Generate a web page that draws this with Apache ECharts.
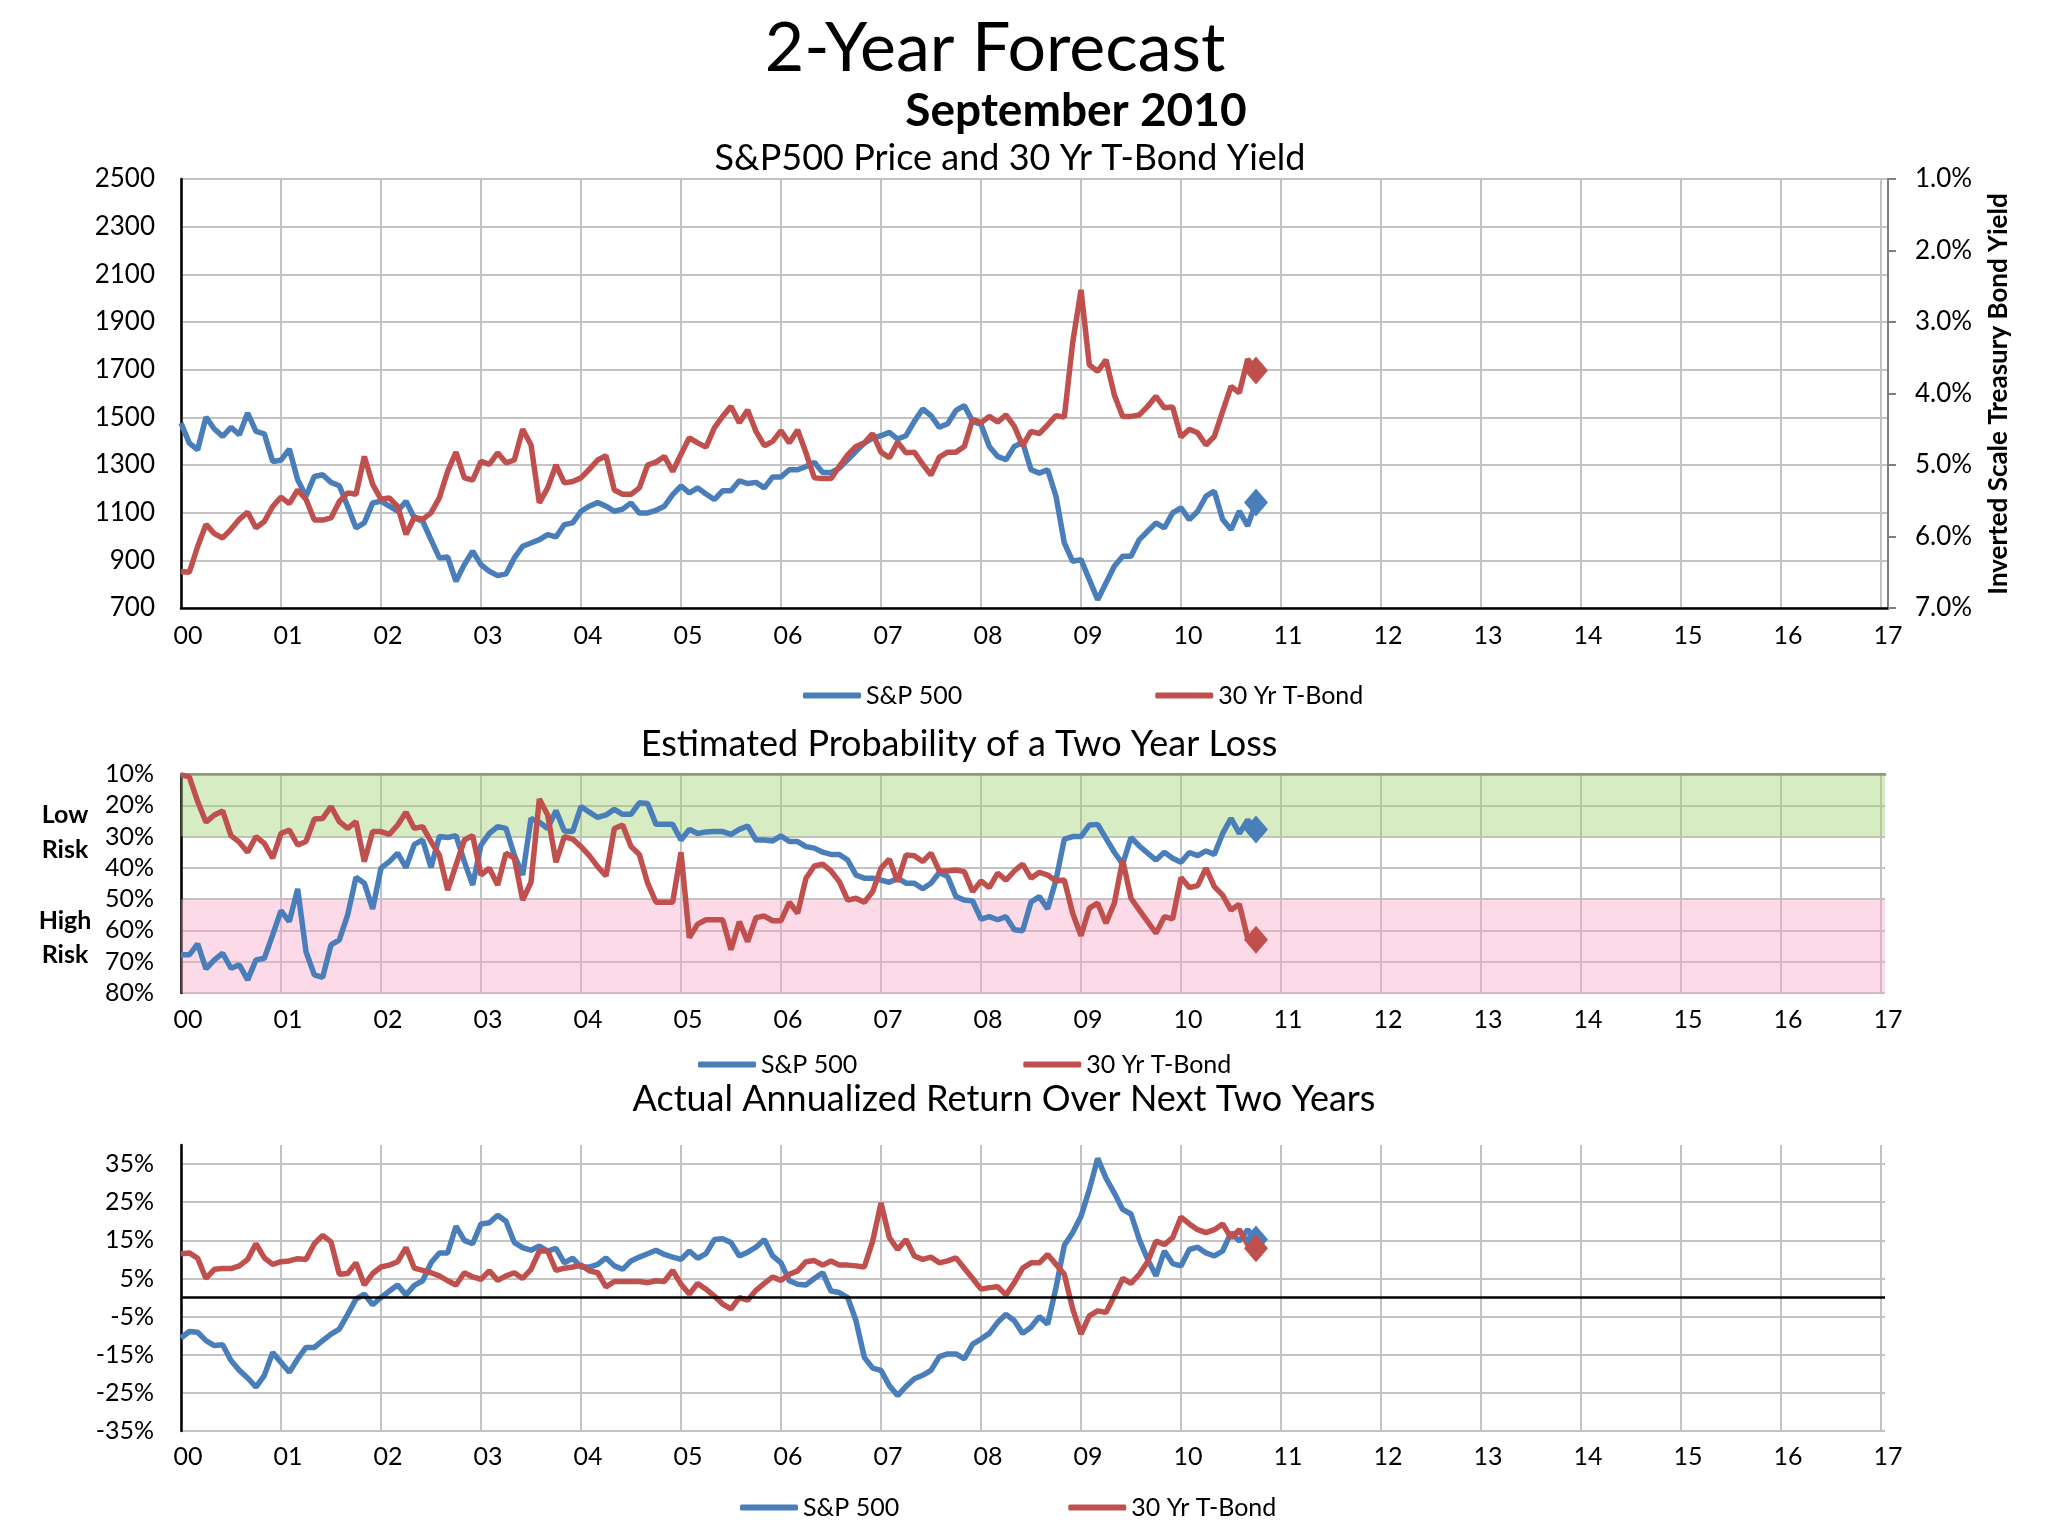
<!DOCTYPE html>
<html><head><meta charset="utf-8">
<script src="https://cdn.jsdelivr.net/npm/echarts@6/dist/echarts.min.js"></script>
<style>html,body{margin:0;padding:0;background:#fff}#c{width:2048px;height:1536px}</style>
</head><body><div id="c"></div>
<script>
// ---------- data (monthly, first point = end of Dec 1999, last = Sep 2010) ----------
const yearLabels = ['00','01','02','03','04','05','06','07','08','09','10','11','12','13','14','15','16','17'];
const seriesNames = ['S&P 500', '30 Yr T-Bond'];

const spPrice = [
 1476,1392,1364,1501,1451,1420,1458,1427,1518,1441,1431,1315,
 1320,1367,1238,1169,1252,1259,1227,1213,1127,1036,1057,1141,
 1148,1127,1106,1148,1078,1064,987,910,914,812,882,938,
 882,854,836,843,910,959,973,987,1008,998,1050,1057,
 1106,1127,1143,1127,1106,1115,1141,1099,1099,1110,1127,1176,
 1212,1183,1204,1178,1155,1192,1192,1234,1222,1227,1204,1250,
 1250,1280,1280,1294,1311,1269,1269,1287,1322,1357,1392,1413,
 1423,1437,1409,1423,1483,1535,1507,1458,1473,1529,1549,1483,
 1470,1378,1336,1322,1378,1395,1280,1266,1280,1169,973,896,
 903,819,735,805,875,917,917,987,1022,1057,1036,1099,
 1120,1071,1106,1169,1190,1071,1029,1106,1045,1143];

const bondYield = [
 6.49,6.50,6.14,5.83,5.96,6.02,5.90,5.76,5.66,5.88,5.79,5.58,
 5.45,5.54,5.35,5.48,5.77,5.77,5.74,5.51,5.39,5.41,4.88,5.27,
 5.48,5.46,5.58,5.97,5.73,5.76,5.67,5.46,5.09,4.82,5.18,5.21,
 4.95,4.99,4.83,4.97,4.93,4.50,4.72,5.53,5.32,5.00,5.25,5.23,
 5.18,5.06,4.93,4.87,5.35,5.41,5.41,5.32,5.00,4.96,4.88,5.09,
 4.85,4.62,4.69,4.75,4.48,4.32,4.18,4.41,4.23,4.53,4.73,4.67,
 4.52,4.69,4.51,4.83,5.18,5.19,5.19,5.02,4.86,4.74,4.69,4.56,
 4.82,4.90,4.68,4.83,4.82,4.99,5.14,4.89,4.82,4.82,4.74,4.36,
 4.41,4.32,4.40,4.30,4.46,4.73,4.53,4.56,4.44,4.31,4.33,3.29,
 2.55,3.60,3.69,3.53,4.02,4.32,4.32,4.30,4.18,4.04,4.20,4.19,
 4.61,4.50,4.55,4.72,4.60,4.25,3.90,3.99,3.52,3.68];

const lossProbSP = [
 67.8,67.8,64.3,72.3,69.4,67.3,72.1,71.0,75.8,69.4,68.9,61.4,
 53.7,57.2,46.7,66.8,74.2,75.0,64.6,63.0,55.0,43.0,44.9,53.1,
 40.1,38.0,35.3,39.9,32.5,31.1,39.9,30.0,30.3,29.7,38.0,45.5,
 32.7,29.0,26.8,27.4,35.9,42.3,24.2,25.4,27.4,21.7,28.2,28.4,
 20.4,22.2,23.9,23.1,21.3,22.9,22.9,19.2,19.4,26.1,26.1,26.1,
 31.1,27.7,29.0,28.5,28.4,28.4,29.3,27.7,26.6,31.1,31.1,31.4,
 29.8,31.6,31.6,33.2,33.7,35.0,35.7,35.7,37.5,42.3,43.3,43.3,
 43.9,44.6,43.3,44.9,44.9,46.7,44.9,41.5,42.8,49.2,50.3,50.6,
 56.4,55.6,56.6,55.6,59.8,60.1,50.9,49.2,53.1,43.9,30.8,30.0,
 30.0,26.3,26.1,30.6,35.0,38.8,30.3,33.0,35.3,37.5,35.0,36.9,
 38.2,35.1,36.1,34.6,35.7,29.0,24.2,29.0,24.7,27.7];

const lossProbTB = [
 10.3,10.9,18.8,25.4,23.1,21.8,29.7,31.8,35.0,30.0,32.2,36.9,
 29.0,27.9,32.7,31.6,24.4,24.2,20.4,25.2,27.4,25.2,38.0,28.4,
 28.4,29.3,26.3,22.2,27.4,26.8,31.6,35.9,47.1,39.1,31.1,29.7,
 42.3,40.1,45.5,35.3,36.9,50.3,44.6,18.0,23.1,38.2,30.0,30.8,
 33.2,36.1,39.6,42.6,27.4,26.3,33.2,35.7,44.9,51.0,51.0,51.0,
 35.0,62.3,58.0,56.6,56.6,56.6,66.2,57.2,63.6,55.9,55.4,56.9,
 56.9,51.0,54.5,43.3,39.4,38.8,41.0,44.4,50.3,49.7,51.0,47.6,
 40.1,37.2,44.4,35.9,36.1,38.0,35.3,41.0,41.0,40.7,41.2,47.6,
 44.2,46.3,41.7,43.9,41.0,38.8,43.3,41.4,42.3,44.2,43.9,54.5,
 61.7,52.9,51.3,57.7,51.3,37.5,49.7,53.5,57.2,60.9,55.6,56.3,
 43.1,46.3,45.7,40.1,46.0,48.7,53.5,51.6,62.5,63.0];

const returnSP = [
 -10.6,-8.9,-9.1,-11.3,-12.6,-12.4,-16.5,-19.1,-21.1,-23.5,-20.4,-14.4,
 -17.0,-19.6,-16.1,-13.1,-13.1,-11.3,-9.6,-8.3,-4.4,-0.4,0.9,-1.9,
 0.0,1.7,3.3,0.7,3.2,4.4,9.1,11.7,11.7,18.7,15.0,14.1,
 19.3,19.6,21.6,20.0,14.4,13.1,12.4,13.5,12.2,12.9,9.1,10.3,
 8.0,8.0,8.7,10.4,8.3,7.4,9.6,10.6,11.5,12.4,11.3,10.6,
 10.0,12.2,10.3,11.5,15.2,15.4,14.4,10.9,11.9,13.2,15.2,10.9,
 9.1,4.4,3.5,3.3,5.0,6.5,1.7,1.3,0.0,-6.1,-15.7,-18.5,
 -19.1,-23.1,-25.7,-23.3,-21.3,-20.4,-19.1,-15.5,-14.8,-14.8,-16.1,-12.2,
 -10.9,-9.4,-6.5,-4.4,-6.1,-9.4,-7.8,-5.0,-7.0,2.6,13.7,17.0,
 21.3,28.3,36.5,31.3,27.4,23.1,21.9,15.2,10.0,5.7,12.2,8.9,
 8.3,12.6,13.2,11.7,10.9,12.2,17.0,14.8,17.8,15.2];

const returnTB = [
 11.5,11.7,10.3,5.0,7.4,7.6,7.6,8.3,10.0,14.1,10.4,8.7,
 9.4,9.6,10.2,10.0,14.1,16.3,14.6,6.1,6.3,9.1,3.3,6.3,
 8.0,8.5,9.4,13.1,7.7,7.1,6.5,5.7,4.4,3.3,6.5,5.4,
 4.8,7.0,4.5,5.7,6.5,5.0,7.4,12.2,12.2,7.1,7.7,8.0,
 8.5,7.0,6.5,2.8,4.2,4.2,4.2,4.2,3.9,4.4,4.2,7.1,
 3.5,0.9,3.7,2.2,0.4,-1.7,-3.0,0.0,-0.7,1.9,3.7,5.4,
 4.5,6.1,7.0,9.4,9.7,8.5,9.6,8.5,8.5,8.3,8.0,14.8,
 24.8,15.7,12.6,15.2,10.9,10.0,10.6,9.1,9.6,10.4,7.7,5.0,
 2.2,2.6,2.8,0.7,3.9,7.7,9.1,9.1,11.3,8.7,6.1,-3.0,
 -9.6,-4.8,-3.5,-3.9,0.4,5.0,3.7,6.1,9.4,14.8,13.9,15.7,
 21.1,19.3,17.8,17.0,17.8,19.3,15.7,17.8,13.9,12.9];

const lowRiskBand = [10, 30];
const highRiskBand = [50, 80];

// ---------- helpers ----------
const FONT = 'Lato, "Open Sans", sans-serif';
const BLUE = '#4A7EBB', RED = '#C0504D';
const GRID_C = '#c3c3c3';
const LINE_W = 5.5;
const toXY = arr => arr.map((v, i) => [i / 12, v]);   // month index -> years since 2000
const lastXY = arr => [[(arr.length - 1) / 12, arr[arr.length - 1]]];

function yearAxis(gridIndex, max, margin) {
  return {
    type: 'value', gridIndex, min: 0, max, interval: 1,
    axisLine: { show: false, onZero: false }, axisTick: { show: false },
    splitLine: { show: true, showMaxLine: false, lineStyle: { color: GRID_C, width: 2 } },
    axisLabel: {
      margin, fontSize: 25, fontFamily: FONT, color: '#000', padding: [0, 0, 0, 14],
      showMaxLabel: false,
      formatter: v => { const r = Math.round(v); return Math.abs(v - r) < 1e-6 && r <= 17 ? yearLabels[r] : ''; }
    }
  };
}
function lineSeries(name, color, xi, yi, arr, extra) {
  return Object.assign({
    type: 'line', name, xAxisIndex: xi, yAxisIndex: yi, data: toXY(arr),
    symbol: 'none', smooth: false, lineStyle: { width: LINE_W, color }, itemStyle: { color }, z: 3
  }, extra || {});
}
function endMark(color, xi, yi, arr) {
  return { type: 'scatter', name: 'end', xAxisIndex: xi, yAxisIndex: yi, data: lastXY(arr),
    symbol: 'diamond', symbolSize: [24, 28], itemStyle: { color, opacity: 1 }, z: 4 };
}
function legend(top, left, gap) {
  return { top, left, padding: 0, itemGap: gap, itemWidth: 58, itemHeight: 6, icon: 'roundRect',
    data: seriesNames, textStyle: { fontSize: 25, fontFamily: FONT, color: '#000' } };
}
function txt(text, x, y, size, weight, extra) {
  return Object.assign({ type: 'text', x, y, silent: true,
    style: { text, fontSize: size, fontFamily: FONT, fontWeight: weight || 'normal', fill: '#000',
      align: 'center', verticalAlign: 'middle' } }, extra || {});
}

const chart = echarts.init(document.getElementById('c'), null, { renderer: 'canvas' });
const option = {
  animation: false,
  backgroundColor: '#fff',
  grid: [
    { left: 181, top: 179, right: 160, bottom: 928 },
    { left: 181, top: 774, right: 163, bottom: 543 },
    { left: 181, top: 1145, right: 163, bottom: 105 }
  ],
  xAxis: [
    Object.assign(yearAxis(0, 17.07, 15), { axisLine: { show: true, onZero: false, lineStyle: { color: '#000', width: 2.5 } } }),
    yearAxis(1, 17.04, 14),
    yearAxis(2, 17.04, 13),
    { type: 'value', gridIndex: 1, position: 'top', min: 0, max: 17.04,
      axisLine: { show: true, onZero: false, lineStyle: { color: '#7f7f7f', width: 2.5 } },
      axisTick: { show: false }, axisLabel: { show: false }, splitLine: { show: false } }
  ],
  yAxis: [
    { type: 'value', gridIndex: 0, position: 'left', min: 700, max: 2500, interval: 200,
      axisLine: { show: true, lineStyle: { color: '#000', width: 2.5 } }, axisTick: { show: false },
      axisLabel: { margin: 26, fontSize: 26, fontFamily: FONT, color: '#000', formatter: v => String(v) },
      splitLine: { show: true, lineStyle: { color: GRID_C, width: 2 } } },
    { type: 'value', gridIndex: 0, position: 'right', min: 1, max: 7, interval: 1, inverse: true,
      axisLine: { show: true, lineStyle: { color: '#7f7f7f', width: 2 } },
      axisTick: { show: true, length: 8, lineStyle: { color: '#7f7f7f', width: 2 } },
      axisLabel: { margin: 27, fontSize: 26, fontFamily: FONT, color: '#000', formatter: v => v.toFixed(1) + '%' },
      splitLine: { show: false } },
    { type: 'value', gridIndex: 1, min: 10, max: 80, interval: 10, inverse: true,
      axisLine: { show: true, lineStyle: { color: '#000', width: 2.5 } }, axisTick: { show: false },
      axisLabel: { margin: 27, fontSize: 25, fontFamily: FONT, color: '#000', formatter: '{value}%' },
      splitLine: { show: true, lineStyle: { color: GRID_C, width: 2 } } },
    { type: 'value', gridIndex: 2, min: -35, max: 40, interval: 10,
      axisLine: { show: true, lineStyle: { color: '#000', width: 2.5 } }, axisTick: { show: false },
      axisLabel: { margin: 27, fontSize: 25, fontFamily: FONT, color: '#000', formatter: '{value}%', showMaxLabel: false },
      splitLine: { show: true, showMaxLine: false, lineStyle: { color: GRID_C, width: 2 } } }
  ],
  legend: [ legend(683, 803, 193), legend(1052, 698, 166), legend(1495, 740, 169) ],
  series: [
    lineSeries(seriesNames[0], BLUE, 0, 0, spPrice),
    lineSeries(seriesNames[1], RED, 0, 1, bondYield),
    endMark(BLUE, 0, 0, spPrice),
    endMark(RED, 0, 1, bondYield),

    lineSeries(seriesNames[0], BLUE, 1, 2, lossProbSP, {
      markArea: { silent: true, data: [
        [ { yAxis: lowRiskBand[0], itemStyle: { color: 'rgba(158,208,108,0.4)' } }, { yAxis: lowRiskBand[1] } ],
        [ { yAxis: highRiskBand[0], itemStyle: { color: 'rgba(250,163,195,0.4)' } }, { yAxis: highRiskBand[1] } ]
      ] } }),
    lineSeries(seriesNames[1], RED, 1, 2, lossProbTB),
    endMark(BLUE, 1, 2, lossProbSP),
    endMark(RED, 1, 2, lossProbTB),

    lineSeries(seriesNames[0], BLUE, 2, 3, returnSP, {
      markLine: { silent: true, symbol: 'none', label: { show: false },
        lineStyle: { color: '#000', width: 2.5, type: 'solid' }, data: [ { yAxis: 0 } ] } }),
    lineSeries(seriesNames[1], RED, 2, 3, returnTB),
    endMark(BLUE, 2, 3, returnSP),
    endMark(RED, 2, 3, returnTB)
  ],
  graphic: { elements: [
    txt('2-Year Forecast', 995, 49, 68),
    txt('September 2010', 1076, 111, 46, 'bold'),
    txt('S&P500 Price and 30 Yr T-Bond Yield', 1010, 158, 36),
    txt('Inverted Scale Treasury Bond Yield', 1999, 394, 26, 'bold', { rotation: Math.PI / 2 }),
    txt('Estimated Probability of a Two Year Loss', 959, 744, 36),
    txt('Low', 65, 815, 25, 'bold'),
    txt('Risk', 65, 850, 25, 'bold'),
    txt('High', 65, 921, 25, 'bold'),
    txt('Risk', 65, 955, 25, 'bold'),
    txt('Actual Annualized Return Over Next Two Years', 1004, 1099, 36)
  ] }
};
chart.setOption(option);
</script>
</body></html>
